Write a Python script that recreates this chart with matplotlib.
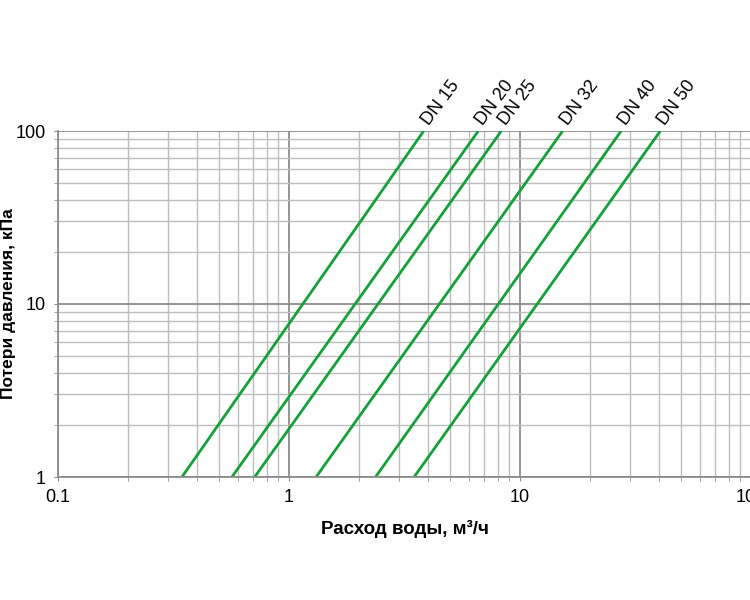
import matplotlib.pyplot as plt
from matplotlib.ticker import LogLocator, FixedLocator, FixedFormatter, NullFormatter

# Данные: расход воды (м3/ч) при потере давления 1 и 100 кПа
sizes = ['DN 15', 'DN 20', 'DN 25', 'DN 32', 'DN 40', 'DN 50']
flow_at_1 = [0.344, 0.566, 0.71, 1.31, 2.37, 3.48]
flow_at_100 = [3.83, 6.6, 8.3, 15.3, 27.4, 40.5]
dp_range = [1, 100]

xticks = [0.1, 1, 10, 100]
xtick_labels = ['0.1', '1', '10', '100']
yticks = [1, 10, 100]
ytick_labels = ['1', '10', '100']

green = '#14a03a'
plt.rcParams['font.family'] = ['Liberation Sans', 'DejaVu Sans']

fig = plt.figure(figsize=(7.5, 6), dpi=100)
ax = fig.add_axes([58 / 750, 1 - 477 / 600, 693 / 750, 346 / 600])

ax.set_xscale('log')
ax.set_yscale('log')
ax.set_xlim(0.1, 100)
ax.set_ylim(1, 100)

# сетка
ax.xaxis.set_major_locator(FixedLocator(xticks))
ax.xaxis.set_major_formatter(FixedFormatter(xtick_labels))
ax.yaxis.set_major_locator(FixedLocator(yticks))
ax.yaxis.set_major_formatter(FixedFormatter(ytick_labels))
ax.xaxis.set_minor_locator(LogLocator(base=10, subs=range(2, 10)))
ax.yaxis.set_minor_locator(LogLocator(base=10, subs=range(2, 10)))
ax.xaxis.set_minor_formatter(NullFormatter())
ax.yaxis.set_minor_formatter(NullFormatter())
ax.grid(which='major', color='#8c8c8c', linewidth=1.3)
ax.grid(which='minor', color='#bdbdbd', linewidth=1.0)
ax.set_axisbelow(True)

for side in ['top', 'right']:
    ax.spines[side].set_visible(False)
for side in ['left', 'bottom']:
    ax.spines[side].set_color('#8c8c8c')
    ax.spines[side].set_linewidth(1.3)

ax.tick_params(which='both', direction='out', color='#8c8c8c', length=3)
ax.tick_params(which='major', labelsize=13, pad=6)

for name, q1, q100 in zip(sizes, flow_at_1, flow_at_100):
    ax.plot([q1, q100], dp_range, color=green, linewidth=2.0, solid_capstyle='butt')
    ax.annotate(name, (q100, dp_range[1]), xytext=(6, 2), textcoords='offset points',
                rotation=53, rotation_mode='anchor', ha='left', va='bottom',
                fontsize=13, annotation_clip=False)

ax.set_xlabel('Расход воды, м³/ч', fontsize=13.5, fontweight='bold', labelpad=10)
# подпись оси Y у самого левого края
fig.text(9 / 750, 1 - 304 / 600, 'Потери давления, кПа', rotation=90,
         ha='center', va='center', fontsize=12.5, fontweight='bold')

plt.savefig('out.png', dpi=100)
